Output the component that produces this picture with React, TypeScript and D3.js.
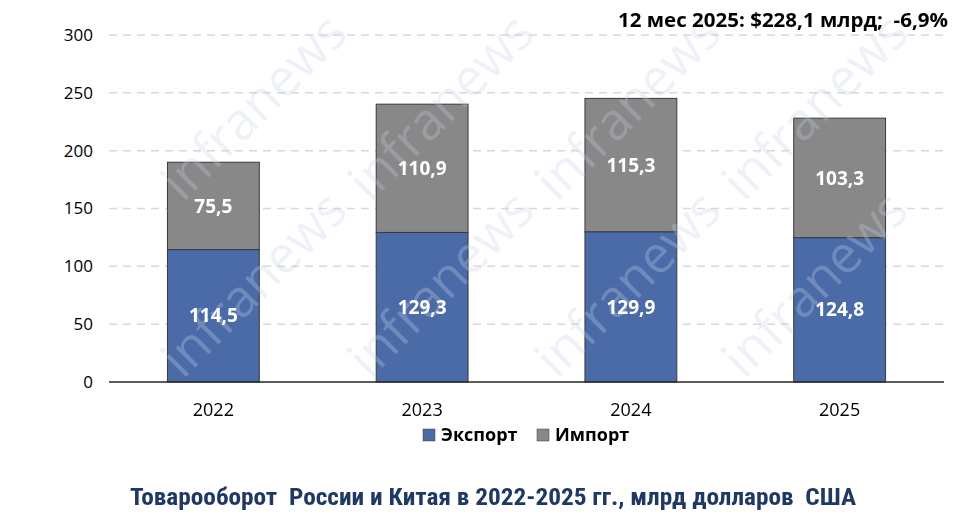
import React from "react";
import * as d3 from "d3";

const years = ["2022", "2023", "2024", "2025"];
const exportVals = [114.5, 129.3, 129.9, 124.8];
const importVals = [75.5, 110.9, 115.3, 103.3];
const yTicks = [0, 50, 100, 150, 200, 250, 300];
const seriesNames = ["Экспорт", "Импорт"];
const colors = ["#4A6BA8", "#888888"];
const topNote = "12 мес 2025: $228,1 млрд;\u00A0 -6,9%";
const title = "Товарооборот\u00A0 России и Китая в 2022-2025 гг., млрд долларов\u00A0 США";
const watermark = "infranews";

const fmt = (v: number) => v.toFixed(1).replace(".", ",");

export default function App() {
  const W = 980, H = 526;
  const left = 109, right = 944, top = 35, bottom = 382;
  const x = d3.scaleBand().domain(years).range([left, right]).paddingInner(0.56).paddingOuter(0.28);
  const y = d3.scaleLinear().domain([0, 300]).range([bottom, top]);
  const font = "'Open Sans', sans-serif";
  const stack = d3.stack<any>().keys(["exp", "imp"])(
    years.map((yr, i) => ({ yr, exp: exportVals[i], imp: importVals[i] }))
  );
  const wmX = [183, 370, 557, 744];
  const wmY = [203, 380];
  return (
    <svg width={W} height={H} style={{ position: "absolute", left: 0, top: 0, background: "#fff" }} fontFamily={font}>
      <rect width={W} height={H} fill="#fff" />
      {yTicks.filter(t => t > 0).map(t => (
        <line key={t} x1={left} x2={right} y1={y(t)} y2={y(t)} stroke="#d9d9d9" strokeWidth={1.5} strokeDasharray="8,6" />
      ))}
      {yTicks.map(t => (
        <text key={t} x={93} y={y(t)} dy="0.35em" textAnchor="end" fontSize={17} fill="#000">{t}</text>
      ))}
      {stack.map((s, si) =>
        s.map((d, i) => (
          <rect key={si + "-" + i} x={x(years[i])!} width={x.bandwidth()} y={y(d[1])} height={y(d[0]) - y(d[1])}
            fill={colors[si]} stroke="#3a3a3a" strokeWidth={1} />
        ))
      )}
      <line x1={left} x2={right} y1={bottom} y2={bottom} stroke="#262626" strokeWidth={1.5} />
      <g opacity={0.3} fill="#c5d2e6" fontSize={52}>
        {wmY.map(wy => wmX.map(wx => (
          <text key={wx + "-" + wy} transform={`translate(${wx},${wy}) rotate(-45)`} textLength={236} lengthAdjust="spacingAndGlyphs">{watermark}</text>
        )))}
      </g>
      {stack.map((s, si) =>
        s.map((d, i) => (
          <text key={"l" + si + "-" + i} x={x(years[i])! + x.bandwidth() / 2} y={(y(d[0]) + y(d[1])) / 2} dy="0.35em"
            textAnchor="middle" fontSize={19} fontWeight="bold" fill="#fff">
            {fmt(si === 0 ? exportVals[i] : importVals[i])}
          </text>
        ))
      )}
      {years.map(yr => (
        <text key={yr} x={x(yr)! + x.bandwidth() / 2} y={410} dy="0.35em" textAnchor="middle" fontSize={18} fill="#000">{yr}</text>
      ))}
      <g>
        <rect x={423} y={429} width={12} height={12} fill={colors[0]} stroke="#404040" strokeWidth={0.5} />
        <text x={441} y={435} dy="0.35em" fontSize={18} fontWeight="bold" fill="#000">{seriesNames[0]}</text>
        <rect x={537} y={429} width={12} height={12} fill={colors[1]} stroke="#404040" strokeWidth={0.5} />
        <text x={555} y={435} dy="0.35em" fontSize={18} fontWeight="bold" fill="#000">{seriesNames[1]}</text>
      </g>
      <text x={948} y={20} dy="0.35em" textAnchor="end" fontSize={20} fontWeight="bold" fill="#000"
        textLength={330} lengthAdjust="spacingAndGlyphs">{topNote}</text>
      <text x={130} y={497} dy="0.35em" fontSize={23} fontWeight="bold" fill="#1F3864"
        textLength={726} lengthAdjust="spacingAndGlyphs"
        fontFamily="'Liberation Sans Narrow', 'Roboto Condensed', 'Noto Sans', sans-serif">{title}</text>
    </svg>
  );
}
